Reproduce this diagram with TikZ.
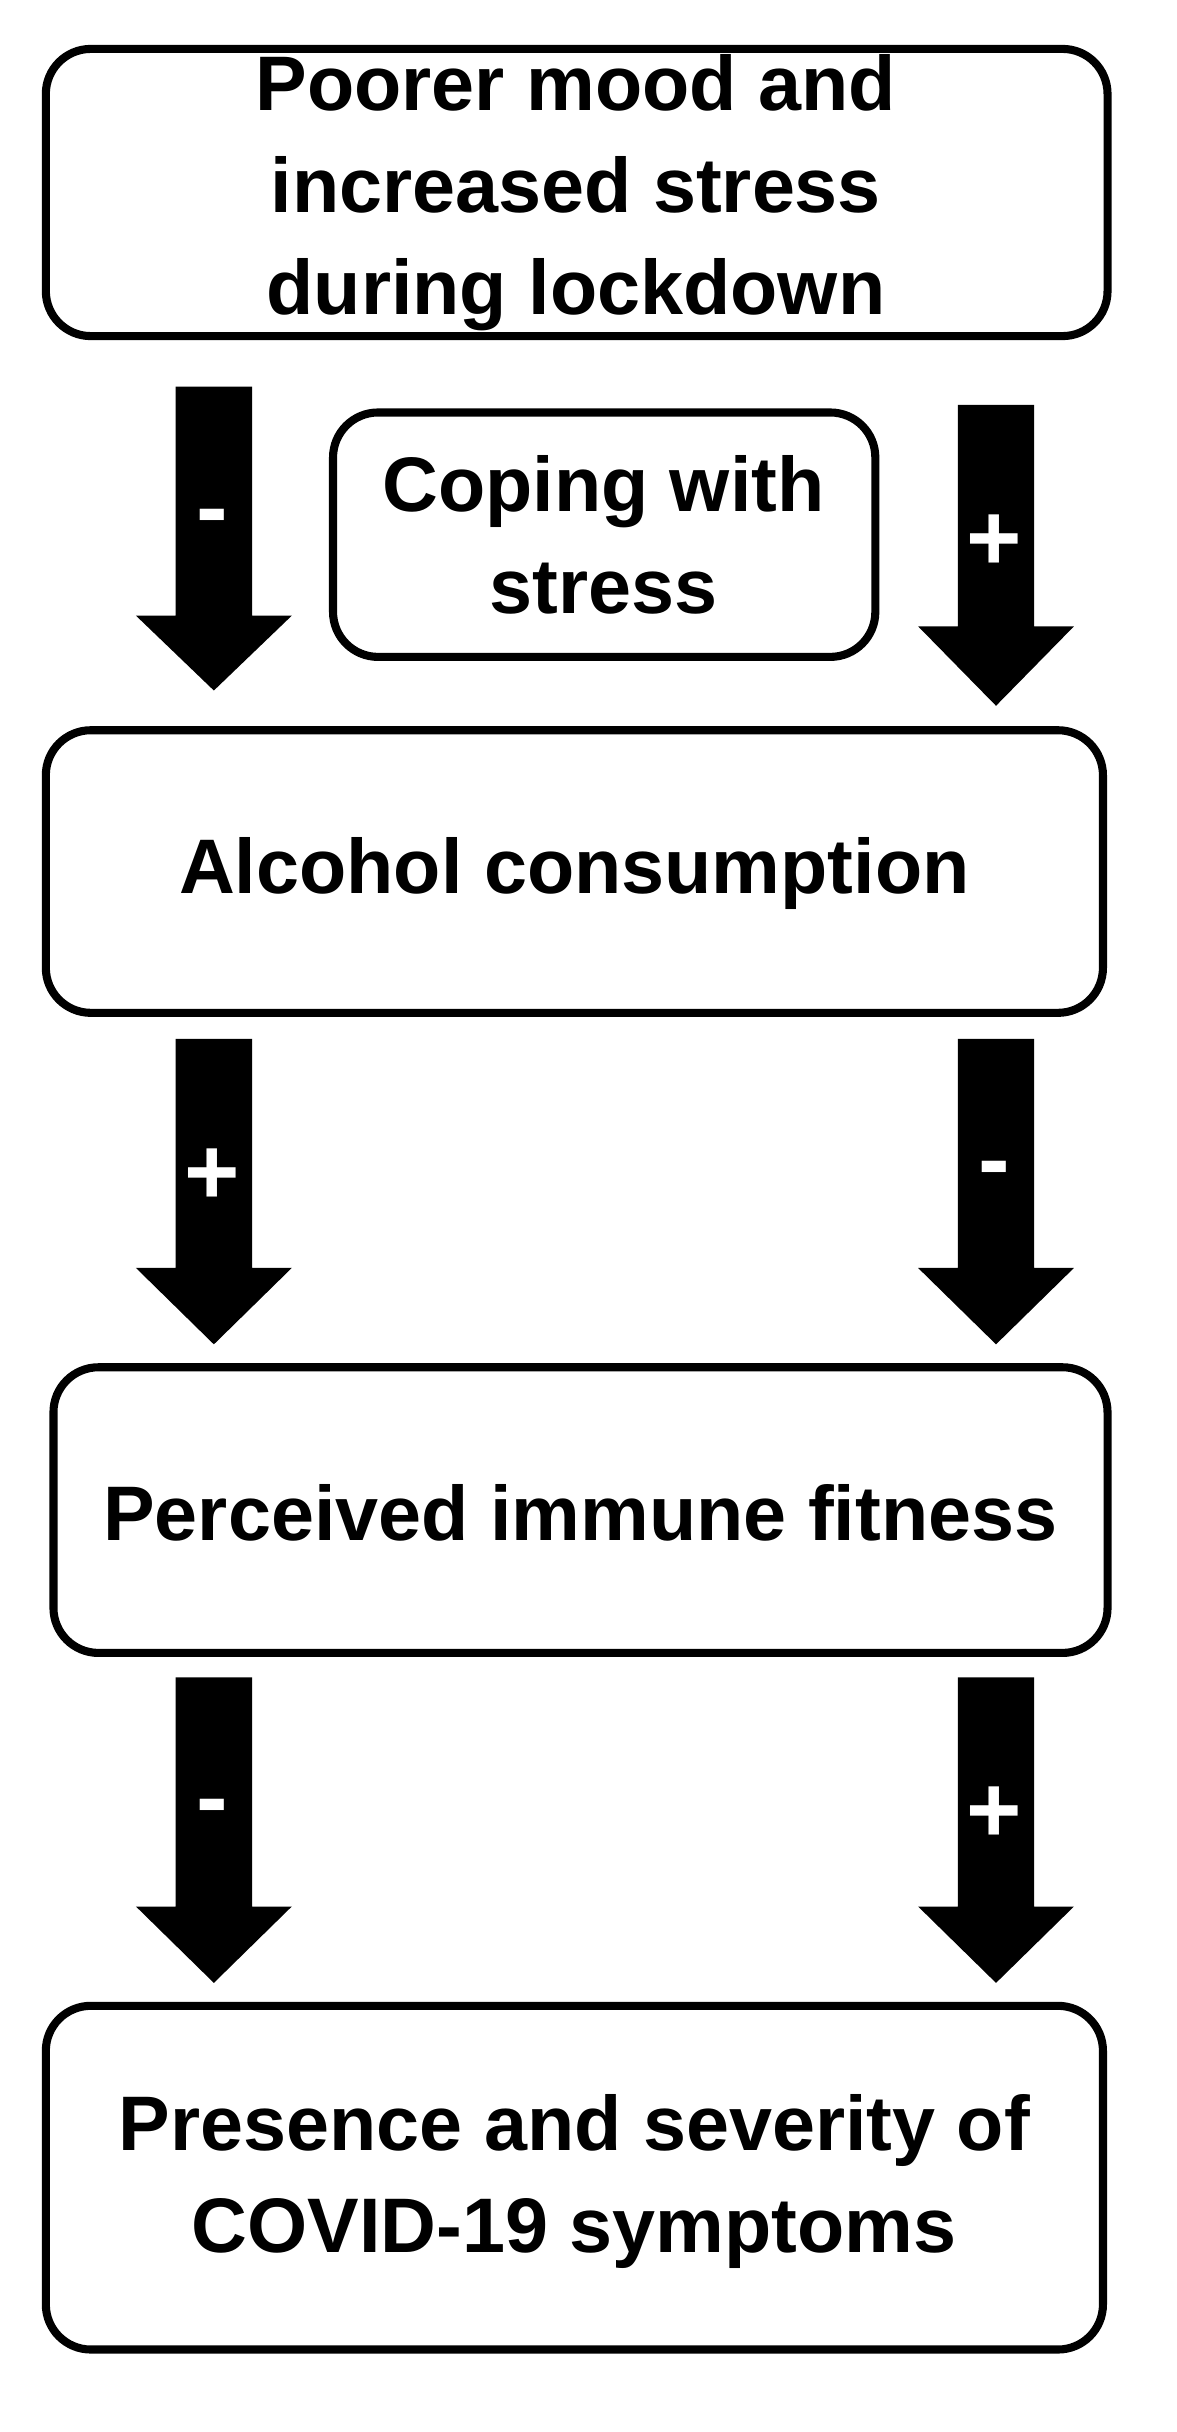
\documentclass[tikz,border=0pt]{standalone}
\usepackage{fontspec}
\setmainfont{Liberation Sans}
\begin{document}
\begin{tikzpicture}[x=0.01527cm,y=-0.01527cm,
  frame/.style={line width=2.3pt,rounded corners=0.45cm},
  txt/.style={font=\bfseries\fontsize{22}{29}\selectfont,align=center},
  sign/.style={text=white,font=\bfseries\fontsize{27}{27}\selectfont}]
\useasboundingbox (0,0) rectangle (770,1592);
\newcommand\darrow[4]{% x center, top, shaftbottom, tip
  \fill (#1-25,#2) -- (#1+25,#2) -- (#1+25,#3) -- (#1+51,#3) -- (#1,#4) -- (#1-51,#3) -- (#1-25,#3) -- cycle;}
\draw[frame] (30,32) rectangle (725,220);
\node[txt] (t1) at (377,126) {Poorer mood and\\increased stress\\during lockdown};
\draw[frame] (218,270) rectangle (573,430);
\node[txt] (t2) at (395,350) {Coping with\\stress};
\draw[frame] (30,478) rectangle (722,663);
\node[txt] (t3) at (376,572) {Alcohol consumption};
\draw[frame] (35,895) rectangle (725,1082);
\node[txt] (t4) at (380,990) {Perceived immune fitness};
\draw[frame] (30,1313) rectangle (722,1538);
\node[txt] (t5) at (376,1428) {Presence and severity of\\COVID-19 symptoms};
\darrow{140}{253}{403}{452}
\darrow{652}{265}{410}{462}
\darrow{140}{680}{830}{880}
\darrow{652}{680}{830}{880}
\darrow{140}{1098}{1248}{1298}
\darrow{652}{1098}{1248}{1298}
\node[sign] (s1) at (139,343) {-};
\node[sign] (s2) at (651,355) {+};
\node[sign] (s3) at (139,770) {+};
\node[sign] (s4) at (651,770) {-};
\node[sign] (s5) at (139,1188) {-};
\node[sign] (s6) at (651,1188) {+};
\end{tikzpicture}
\end{document}
